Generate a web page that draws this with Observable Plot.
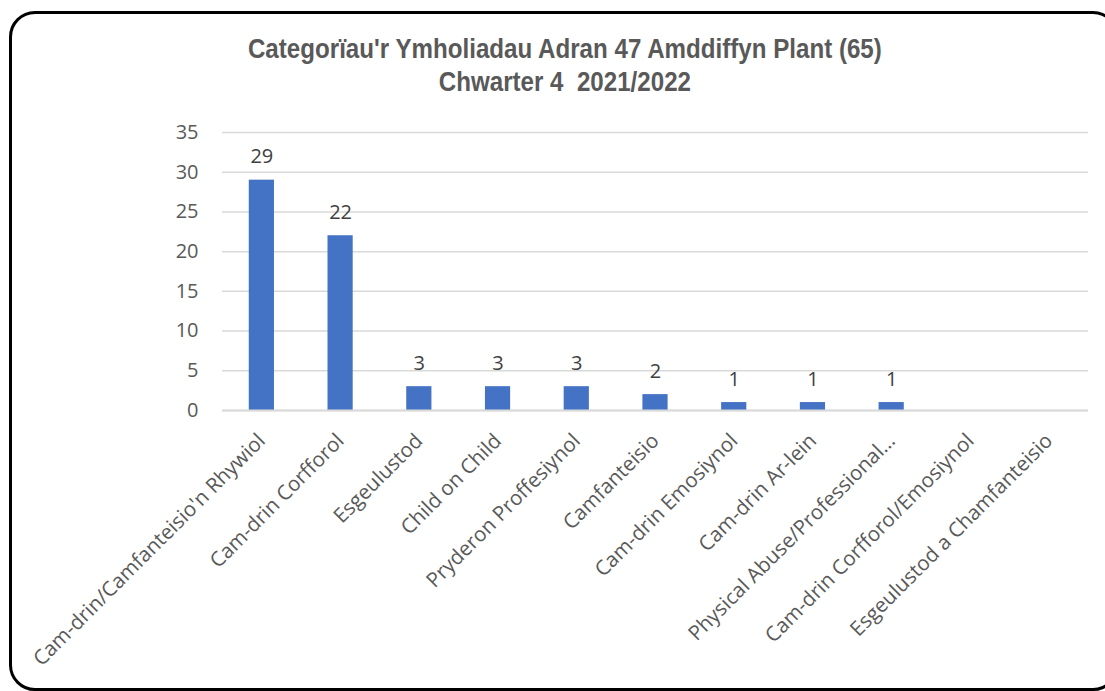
<!DOCTYPE html>
<html>
<head>
<meta charset="utf-8">
<script src="https://cdn.jsdelivr.net/npm/d3@7"></script>
<script src="https://cdn.jsdelivr.net/npm/@observablehq/plot@0.6"></script>
<style>
  html, body { margin: 0; padding: 0; width: 1105px; height: 691px; overflow: hidden; background: #fff; }
  #frame { position: absolute; left: 9px; top: 11px; width: 1110px; height: 680px; border: 3.5px solid #000; border-radius: 26px; box-sizing: border-box; }
  .title { position: absolute; left: 0; width: 1130px; text-align: center; font-family: "Liberation Sans", Arial, sans-serif; font-weight: bold; font-size: 27px; color: #595959; white-space: pre; transform: scaleX(0.894); transform-origin: 564px 0; }
  #chart { position: absolute; left: 0; top: 100px; }
</style>
</head>
<body>
<div id="frame"></div>
<div class="title" id="t1" style="top:34px;"></div>
<div class="title" id="t2" style="top:67px;"></div>
<div id="chart"></div>
<script>
const titleLines = ["Categorïau'r Ymholiadau Adran 47 Amddiffyn Plant (65)", "Chwarter 4  2021/2022"];
const categories = [
  "Cam-drin/Camfanteisio'n Rhywiol",
  "Cam-drin Corfforol",
  "Esgeulustod",
  "Child on Child",
  "Pryderon Proffesiynol",
  "Camfanteisio",
  "Cam-drin Emosiynol",
  "Cam-drin Ar-lein",
  "Physical Abuse/Professional…",
  "Cam-drin Corfforol/Emosiynol",
  "Esgeulustod a Chamfanteisio"
];
const values = [29, 22, 3, 3, 3, 2, 1, 1, 1, 0, 0];
const yTicks = [0, 5, 10, 15, 20, 25, 30, 35];

document.getElementById("t1").textContent = titleLines[0];
document.getElementById("t2").textContent = titleLines[1];

const data = categories.map((c, i) => ({category: c, value: values[i]}));

const chart = Plot.plot({
  width: 1105,
  height: 591,
  marginTop: 32,
  marginBottom: 281,
  marginLeft: 222,
  marginRight: 17,
  style: {fontFamily: "'Open Sans', sans-serif", fontSize: "20px", color: "#595959", background: "transparent"},
  x: {domain: categories, paddingInner: 0.68, paddingOuter: 0.34, round: false, label: null},
  y: {domain: [0, 35], label: null},
  marks: [
    Plot.gridY(yTicks, {stroke: "#d9d9d9", strokeOpacity: 1, strokeWidth: 1.5}),
    Plot.barY(data, {x: "category", y: "value", fill: "#4472C4"}),
    Plot.ruleY([0], {stroke: "#d9d9d9", strokeWidth: 2}),
    Plot.text(data.filter(d => d.value > 0), {x: "category", y: "value", text: d => String(d.value), lineAnchor: "bottom", dy: -17, fill: "#404040", fontSize: 20}),
    Plot.axisY({ticks: yTicks, tickSize: 0, tickPadding: 24, fontSize: 20, fill: "#595959"}),
    Plot.axisX({tickSize: 0, tickPadding: 27, tickRotate: -45, dx: 0, fontSize: 20.5, fill: "#595959"})
  ]
});
document.getElementById("chart").appendChild(chart);
</script>
</body>
</html>
